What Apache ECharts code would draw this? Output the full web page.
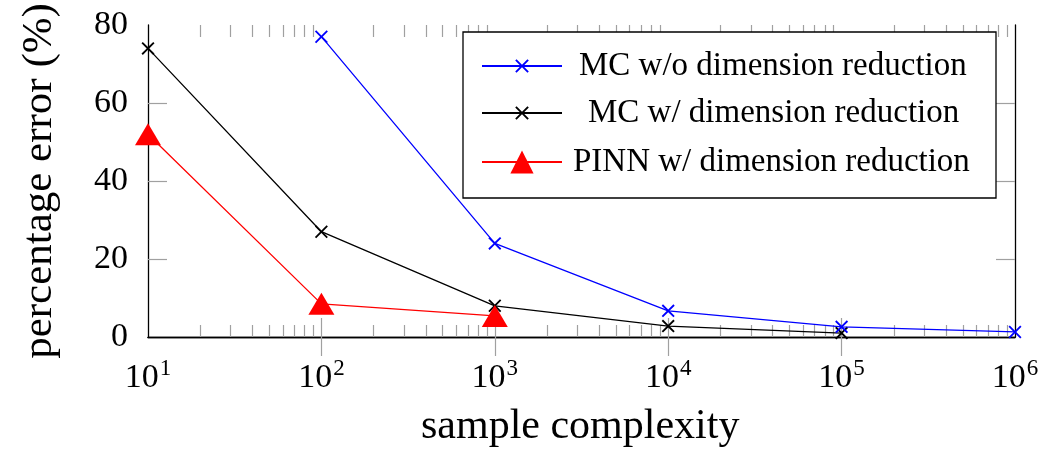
<!DOCTYPE html>
<html>
<head>
<meta charset="utf-8">
<script src="https://cdn.jsdelivr.net/npm/echarts@6/dist/echarts.min.js"></script>
<style>
  html, body { margin: 0; padding: 0; background: #fff; }
  #chart { width: 1058px; height: 456px; }
</style>
</head>
<body>
<div id="chart"></div>
<script>
  // sample sizes on the x axis
  const samples = [10, 100, 1000, 10000, 100000, 1000000]
  // percentage error for each method (null = not run)
  const mcNoReduction = [null, 77, 24, 6.7, 2.6, 1.3]
  const mcReduction = [74, 27, 8, 2.8, 1.0, null]
  const pinnReduction = [52, 8.5, 5.4, null, null, null]
  const yTicks = [0, 20, 40, 60, 80]
  const xMajorInner = [100, 1000, 10000, 100000]
  const yTickInner = [20, 40, 60]

  const names = ['MC w/o dimension reduction', 'MC w/ dimension reduction', 'PINN w/ dimension reduction']

  // minor log ticks 2..9 in each decade
  const minors = []
  for (let d = 10; d < 1000000; d *= 10) {
    for (let k = 2; k <= 9; k++) minors.push(k * d)
  }

  const serif = 'Liberation Serif'
  const cross = 'path://M0,1L1,0L5,4L9,0L10,1L6,5L10,9L9,10L5,6L1,10L0,9L4,5Z'
  const tickGray = '#a0a0a0'

  function pairs(vals) {
    return samples.map((x, i) => vals[i] == null ? null : [x, vals[i]]).filter(p => p)
  }

  function xAxisDef(pos, major) {
    return {
      type: 'log',
      logBase: 10,
      min: 10,
      max: 1000000,
      position: pos,
      axisLine: { show: major, lineStyle: { color: '#000', width: 1.3 } },
      axisTick: {
        show: true, inside: true,
        length: major ? 19 : 12,
        customValues: major ? xMajorInner : minors,
        lineStyle: { color: tickGray, width: 1.2 }
      },
      axisLabel: (major && pos === 'bottom') ? {
        show: true,
        margin: 20,
        formatter: v => '{b|10}{s|' + Math.round(Math.log10(v)) + '}',
        rich: {
          b: { fontFamily: serif, fontSize: 34, color: '#000', verticalAlign: 'bottom' },
          s: { fontFamily: serif, fontSize: 23, color: '#000', verticalAlign: 'bottom', padding: [0, 0, 15, 1] }
        }
      } : { show: false },
      splitLine: { show: false },
      minorTick: { show: false }
    }
  }

  function yAxisDef(pos) {
    const ax = {
      type: 'value', min: 0, max: 80, interval: 20, position: pos,
      axisLine: { show: true, lineStyle: { color: '#000', width: 1.3 } },
      axisTick: { show: true, inside: true, length: 19, customValues: yTickInner,
        lineStyle: { color: tickGray, width: 1.2 } },
      axisLabel: { show: false },
      splitLine: { show: false }
    }
    if (pos === 'left') {
      ax.axisLabel = { show: true, margin: 20, fontFamily: serif, fontSize: 34, color: '#000',
        customValues: yTicks }
      ax.name = 'percentage error (%)'
      ax.nameLocation = 'middle'
      ax.nameGap = 87
      ax.nameTextStyle = { fontFamily: serif, fontSize: 43, color: '#000' }
    }
    return ax
  }

  // one legend per row so each row keeps its own marker size
  const rowCenters = [64, 111, 160]
  const rowIcon = [17, 17, 29]
  const rowTextPad = [12, 21, 6]
  const legends = names.map((n, i) => ({
    orient: 'vertical',
    left: 481,
    top: rowCenters[i] - 14.5,
    padding: 0,
    itemWidth: 80,
    itemHeight: rowIcon[i],
    z: 12,
    textStyle: { fontFamily: serif, fontSize: 33, color: '#000', padding: [0, 0, 0, rowTextPad[i]] },
    data: [n]
  }))

  const chart = echarts.init(document.getElementById('chart'))
  const option = {
    animation: false,
    backgroundColor: '#fff',
    grid: { left: 148, right: 43, top: 25, bottom: 119, containLabel: false },
    legend: legends,
    xAxis: [xAxisDef('bottom', true), xAxisDef('top', true), xAxisDef('bottom', false), xAxisDef('top', false)],
    yAxis: [yAxisDef('left'), yAxisDef('right')],
    graphic: [
      {
        type: 'rect', z: 10,
        shape: { x: 463, y: 32, width: 533, height: 166 },
        style: { fill: '#fff', stroke: '#000', lineWidth: 1.3 }
      },
      {
        type: 'text', left: 421, top: 406,
        style: { text: 'sample complexity', fontFamily: serif, fontSize: 42, fill: '#000' }
      }
    ],
    series: [
      {
        name: names[0], type: 'line', data: pairs(mcNoReduction),
        symbol: cross, symbolSize: 13,
        lineStyle: { color: '#0000ff', width: 1.3 },
        itemStyle: { color: '#0000ff', borderWidth: 0 },
        z: 3
      },
      {
        name: names[1], type: 'line', data: pairs(mcReduction),
        symbol: cross, symbolSize: 13,
        lineStyle: { color: '#000', width: 1.3 },
        itemStyle: { color: '#000', borderWidth: 0 },
        z: 2
      },
      {
        name: names[2], type: 'line', data: pairs(pinnReduction),
        symbol: 'triangle', symbolSize: [26, 22],
        lineStyle: { color: '#ff0000', width: 1.3 },
        itemStyle: { color: '#ff0000', borderWidth: 0 },
        z: 4
      }
    ]
  }
  chart.setOption(option, true)
</script>
</body>
</html>
